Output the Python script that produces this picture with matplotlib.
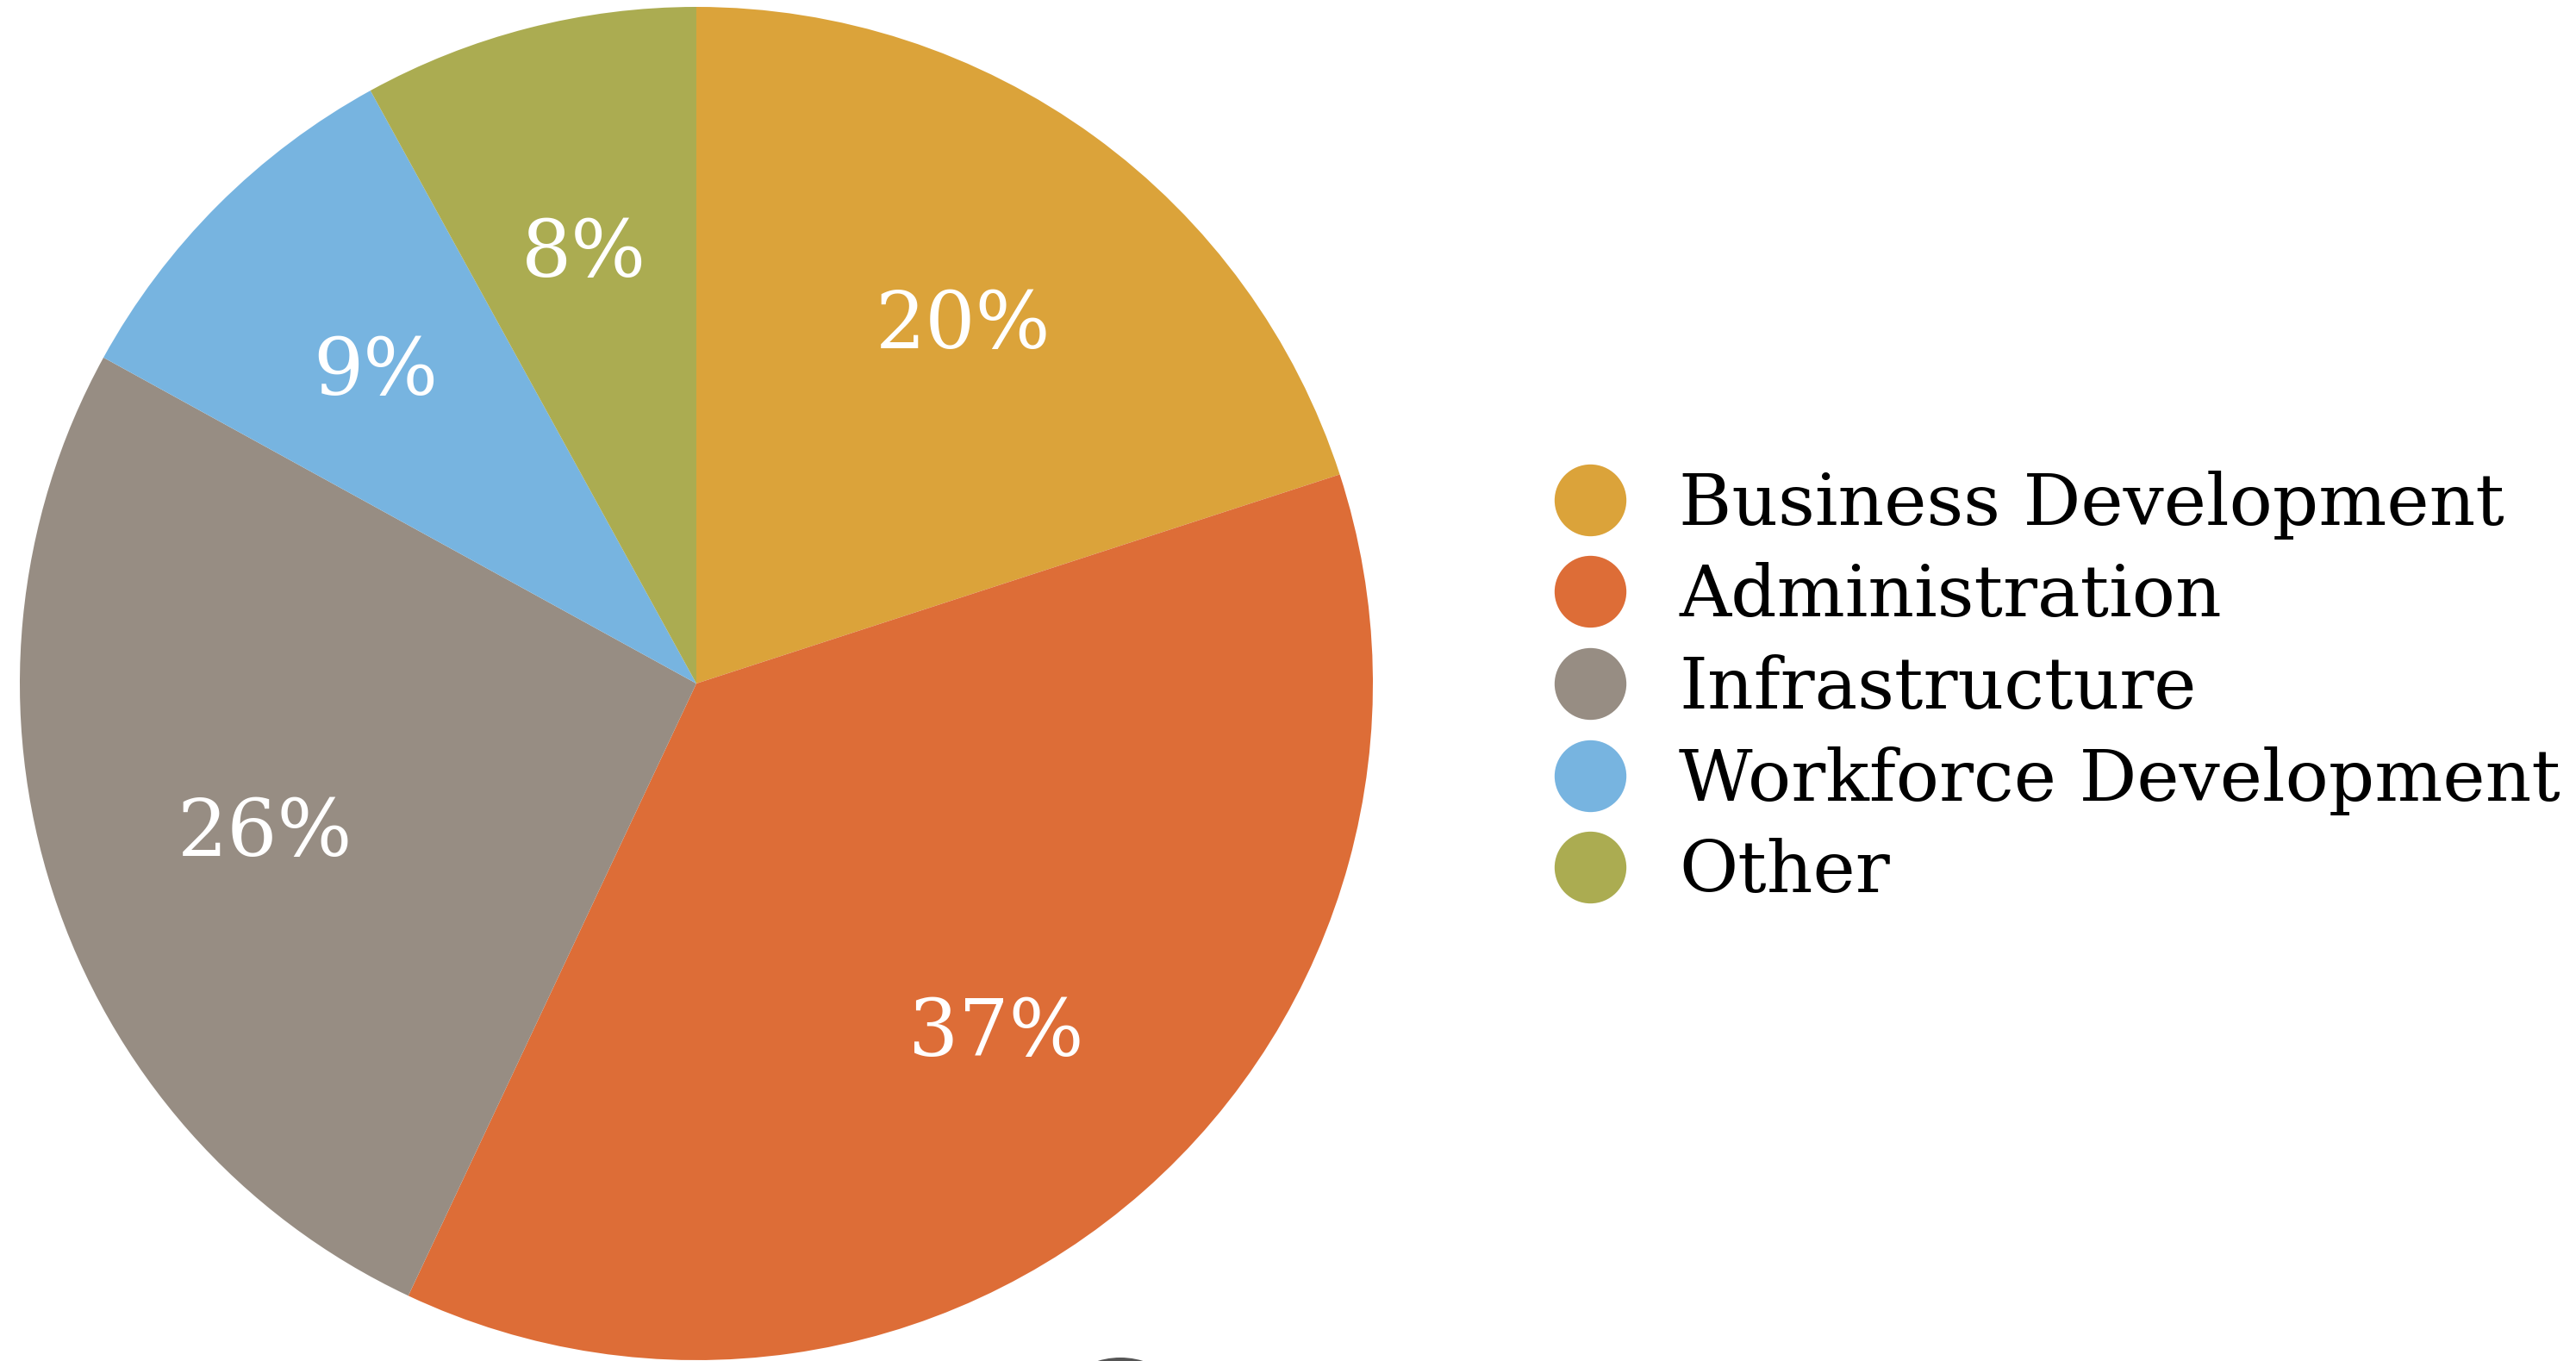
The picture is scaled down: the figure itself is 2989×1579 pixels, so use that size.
import matplotlib
matplotlib.use("Agg")
import matplotlib.pyplot as plt
from matplotlib.lines import Line2D
from matplotlib.patches import Circle

categories = ["Business Development", "Administration", "Infrastructure",
              "Workforce Development", "Other"]
shares = [20, 37, 26, 9, 8]
colors = ["#DBA33A", "#DD6D37", "#978D83", "#77B4E0", "#ABAC51"]

W, H, DPI = 2989, 1579, 100
fig = plt.figure(figsize=(W / DPI, H / DPI), dpi=DPI)
fig.patch.set_facecolor("white")

# Pie axes: square box centred at (808, 793) px with radius 785 px
cx, cy, r = 808, 793, 785
ax = fig.add_axes([(cx - r) / W, (H - cy - r) / H, 2 * r / W, 2 * r / H])
wedges, texts, autotexts = ax.pie(
    shares, colors=colors, startangle=90, counterclock=False,
    autopct=lambda p: f"{p:.0f}%", pctdistance=0.67,
    wedgeprops=dict(linewidth=0),
    textprops=dict(color="white", fontsize=66, family="DejaVu Serif"),
)
for t in autotexts:
    x, y = t.get_position()
    t.set_position((x, y - 0.015))
ax.set_xlim(-1, 1)
ax.set_ylim(-1, 1)
ax.set_aspect("equal")
ax.axis("off")

handles = [Line2D([], [], marker="o", linestyle="none", markersize=60,
                  markerfacecolor=c, markeredgewidth=0) for c in colors]
fig.legend(handles, categories, loc="center left",
           bbox_to_anchor=(1800 / W, 1 - 799 / H), frameon=False,
           prop=dict(family="DejaVu Serif", size=60),
           labelspacing=0.32, handletextpad=0.7, handlelength=1.08,
           borderaxespad=0, borderpad=0)

# partial dark shape at the bottom edge
fig.add_artist(Circle((1300 / DPI, (H - 1665) / DPI), 90 / DPI,
                      transform=fig.dpi_scale_trans, facecolor="#555555",
                      edgecolor="none"))

fig.savefig("out.png", dpi=DPI, facecolor="white")
